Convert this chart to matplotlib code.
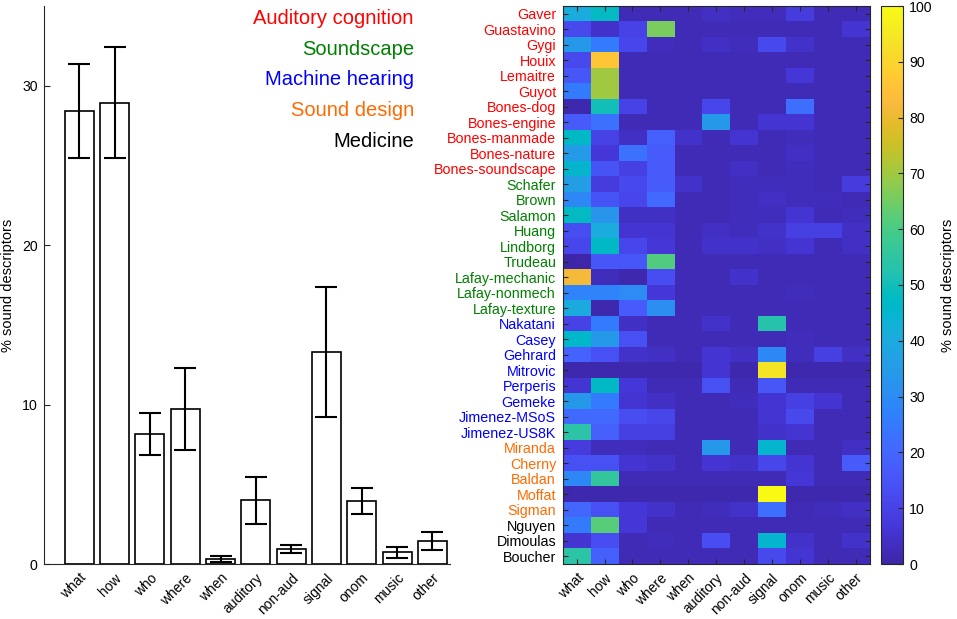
import numpy as np
import matplotlib
matplotlib.use('Agg')
import matplotlib.pyplot as plt
from matplotlib.colors import LinearSegmentedColormap

plt.rcParams['font.family'] = ['Liberation Sans', 'DejaVu Sans']

# ---------------- data ----------------
categories = ['what', 'how', 'who', 'where', 'when', 'auditory', 'non-aud',
              'signal', 'onom', 'music', 'other']
bar_means = [28.42, 28.94, 8.16, 9.72, 0.32, 3.99, 0.97, 13.32, 3.96, 0.74, 1.44]
bar_errors = [2.97, 3.50, 1.33, 2.58, 0.21, 1.47, 0.25, 4.08, 0.82, 0.35, 0.56]

group_names = ['Auditory cognition', 'Soundscape', 'Machine hearing',
               'Sound design', 'Medicine']
group_colors = ['#ff0000', '#008000', '#0000ff', '#ff6a00', '#000000']
group_sizes = [11, 9, 8, 5, 3]

authors = ['Gaver', 'Guastavino', 'Gygi', 'Houix', 'Lemaitre', 'Guyot',
           'Bones-dog', 'Bones-engine', 'Bones-manmade', 'Bones-nature',
           'Bones-soundscape', 'Schafer', 'Brown', 'Salamon', 'Huang',
           'Lindborg', 'Trudeau', 'Lafay-mechanic', 'Lafay-nonmech',
           'Lafay-texture', 'Nakatani', 'Casey', 'Gehrard', 'Mitrovic',
           'Perperis', 'Gemeke', 'Jimenez-MSoS', 'Jimenez-US8K', 'Miranda',
           'Cherny', 'Baldan', 'Moffat', 'Sigman', 'Nguyen', 'Dimoulas',
           'Boucher']

# rows: authors, columns: categories (% sound descriptors)
heat_values = [
    [41, 48, 2, 2, 2, 4, 3, 3, 8, 2, 2],      # Gaver
    [12, 5, 10, 66, 2, 2, 2, 2, 2, 2, 6],     # Guastavino
    [34, 25, 11, 3, 2, 4, 3, 12, 5, 2, 2],    # Gygi
    [12, 86, 2, 2, 2, 2, 2, 2, 2, 2, 2],      # Houix
    [16, 70, 2, 2, 2, 2, 2, 2, 7, 2, 2],      # Lemaitre
    [25, 70, 2, 2, 2, 2, 2, 2, 2, 2, 2],      # Guyot
    [1, 50, 10, 2, 2, 11, 2, 2, 22, 2, 2],    # Bones-dog
    [17, 23, 2, 2, 2, 34, 2, 6, 6, 2, 2],     # Bones-engine
    [47, 10, 4, 18, 5, 2, 6, 2, 3, 2, 2],     # Bones-manmade
    [35, 7, 23, 17, 2, 2, 2, 2, 4, 2, 2],     # Bones-nature
    [45, 15, 9, 17, 2, 2, 4, 2, 3, 2, 2],     # Bones-soundscape
    [36, 8, 12, 17, 5, 2, 3, 3, 3, 2, 8],     # Schafer
    [29, 15, 11, 21, 2, 2, 3, 4, 3, 3, 2],    # Brown
    [48, 33, 4, 4, 2, 2, 3, 3, 6, 2, 3],      # Salamon
    [13, 41, 6, 6, 2, 4, 3, 5, 9, 9, 4],      # Huang
    [11, 47, 11, 7, 2, 5, 5, 4, 6, 2, 4],     # Lindborg
    [0, 16, 16, 61, 2, 2, 2, 2, 2, 2, 2],     # Trudeau
    [82, 3, 1, 13, 2, 2, 5, 2, 2, 2, 2],      # Lafay-mechanic
    [28, 28, 30, 7, 2, 2, 2, 2, 3, 2, 2],     # Lafay-nonmech
    [40, 1, 17, 31, 2, 2, 2, 2, 2, 2, 2],     # Lafay-texture
    [10, 25, 4, 2, 2, 5, 2, 53, 2, 2, 2],     # Nakatani
    [46, 34, 14, 2, 2, 2, 2, 2, 3, 2, 2],     # Casey
    [19, 14, 5, 4, 2, 6, 4, 29, 3, 9, 4],     # Gehrard
    [1, 1, 1, 1, 1, 6, 1, 94, 1, 1, 1],       # Mitrovic
    [6, 47, 7, 2, 2, 14, 2, 16, 2, 2, 2],     # Perperis
    [34, 25, 6, 4, 2, 2, 3, 6, 9, 6, 2],      # Gemeke
    [21, 21, 13, 11, 2, 2, 2, 6, 12, 2, 2],   # Jimenez-MSoS
    [54, 18, 9, 9, 2, 2, 2, 5, 6, 2, 2],      # Jimenez-US8K
    [8, 3, 3, 2, 2, 34, 2, 45, 2, 2, 4],      # Miranda
    [14, 14, 6, 5, 2, 6, 5, 11, 6, 2, 17],    # Cherny
    [29, 56, 2, 2, 2, 2, 2, 2, 7, 2, 2],      # Baldan
    [1, 1, 1, 1, 1, 1, 1, 100, 1, 1, 1],      # Moffat
    [20, 14, 7, 5, 2, 3, 5, 22, 2, 3, 4],     # Sigman
    [25, 62, 7, 2, 2, 2, 2, 2, 2, 2, 2],      # Nguyen
    [6, 13, 2, 3, 2, 13, 2, 45, 5, 2, 5],     # Dimoulas
    [54, 18, 2, 2, 2, 2, 2, 12, 6, 2, 2],     # Boucher
]

# ---------------- colormap (parula-like) ----------------
_parula = [
    [0.2422, 0.1504, 0.6603], [0.2504, 0.1650, 0.7076], [0.2578, 0.1818, 0.7511],
    [0.2647, 0.1978, 0.7952], [0.2706, 0.2147, 0.8364], [0.2751, 0.2342, 0.8710],
    [0.2783, 0.2559, 0.8991], [0.2803, 0.2782, 0.9221], [0.2813, 0.3006, 0.9414],
    [0.2810, 0.3228, 0.9579], [0.2795, 0.3447, 0.9717], [0.2760, 0.3667, 0.9829],
    [0.2699, 0.3892, 0.9906], [0.2602, 0.4123, 0.9952], [0.2440, 0.4358, 0.9988],
    [0.2206, 0.4603, 0.9973], [0.1963, 0.4847, 0.9892], [0.1834, 0.5074, 0.9798],
    [0.1786, 0.5289, 0.9682], [0.1764, 0.5499, 0.9520], [0.1687, 0.5703, 0.9359],
    [0.1540, 0.5902, 0.9218], [0.1460, 0.6091, 0.9079], [0.1380, 0.6276, 0.8973],
    [0.1248, 0.6459, 0.8883], [0.1113, 0.6635, 0.8763], [0.0952, 0.6798, 0.8598],
    [0.0689, 0.6948, 0.8394], [0.0297, 0.7082, 0.8163], [0.0036, 0.7203, 0.7917],
    [0.0067, 0.7312, 0.7660], [0.0433, 0.7411, 0.7394], [0.0964, 0.7500, 0.7120],
    [0.1408, 0.7584, 0.6842], [0.1717, 0.7670, 0.6554], [0.1938, 0.7758, 0.6251],
    [0.2161, 0.7843, 0.5923], [0.2470, 0.7918, 0.5567], [0.2906, 0.7973, 0.5188],
    [0.3406, 0.8008, 0.4789], [0.3909, 0.8029, 0.4354], [0.4456, 0.8024, 0.3909],
    [0.5044, 0.7993, 0.3480], [0.5616, 0.7942, 0.3045], [0.6174, 0.7876, 0.2612],
    [0.6720, 0.7793, 0.2227], [0.7242, 0.7698, 0.1910], [0.7738, 0.7598, 0.1646],
    [0.8203, 0.7498, 0.1535], [0.8634, 0.7406, 0.1596], [0.9035, 0.7330, 0.1774],
    [0.9393, 0.7288, 0.2100], [0.9728, 0.7298, 0.2394], [0.9956, 0.7434, 0.2371],
    [0.9970, 0.7659, 0.2199], [0.9952, 0.7893, 0.2028], [0.9892, 0.8136, 0.1885],
    [0.9794, 0.8386, 0.1766], [0.9681, 0.8639, 0.1656], [0.9590, 0.8890, 0.1535],
    [0.9597, 0.9135, 0.1423], [0.9628, 0.9373, 0.1265], [0.9691, 0.9606, 0.1064],
    [0.9769, 0.9839, 0.0805]]
parula = LinearSegmentedColormap.from_list('parula', _parula, N=256)

W, H = 957, 619
fig = plt.figure(figsize=(W / 100, H / 100), dpi=100)

def fx(px):
    return px / W

def fy(px):
    return (H - px) / H

axis_col = '#262626'

# ---------------- bar chart ----------------
ax = fig.add_axes([fx(44), fy(564), fx(450) - fx(44), fy(6) - fy(564)])
xpos = np.arange(1, len(categories) + 1)
ax.bar(xpos, bar_means, width=0.82, facecolor='white', edgecolor='black',
       linewidth=1.2, zorder=2)
ax.errorbar(xpos, bar_means, yerr=bar_errors, fmt='none', ecolor='black',
            elinewidth=1.5, capsize=7.8, capthick=1.5, zorder=3)
ax.set_xlim(0, 11.5)
ax.set_ylim(0, 35)
ax.set_yticks([0, 10, 20, 30])
ax.set_xticks(xpos)
ax.set_xticklabels(categories, rotation=45, ha='right', va='top',
                   rotation_mode='anchor', fontsize=10)
ax.tick_params(axis='x', length=0, pad=5)
ax.tick_params(axis='y', direction='in', length=4.3, width=0.8, color=axis_col,
               labelsize=10.2, pad=4.5)
for s in ['top', 'right']:
    ax.spines[s].set_visible(False)
for s in ['left', 'bottom']:
    ax.spines[s].set_color(axis_col)
    ax.spines[s].set_linewidth(0.8)
ax.set_ylabel('% sound descriptors', fontsize=10.5, labelpad=5)

for i, (name, col) in enumerate(zip(group_names, group_colors)):
    ax.text(0.911, 0.978 - i * 0.0552, name, color=col, fontsize=14.5,
            ha='right', va='center', transform=ax.transAxes)

# ---------------- heatmap ----------------
hx = fig.add_axes([fx(562.7), fy(564), fx(869.5) - fx(562.7), fy(6) - fy(564)])
data = np.array(heat_values, dtype=float)
im = hx.imshow(data, cmap=parula, vmin=0, vmax=100, aspect='auto',
               interpolation='nearest')
hx.set_xticks(np.arange(len(categories)))
hx.set_xticklabels(categories, rotation=45, ha='right', va='top',
                   rotation_mode='anchor', fontsize=10)
hx.set_yticks(np.arange(len(authors)))
hx.set_yticklabels(authors, fontsize=10.3)
row_colors = []
for col, n in zip(group_colors, group_sizes):
    row_colors += [col] * n
for lab, col in zip(hx.get_yticklabels(), row_colors):
    lab.set_color(col)
hx.tick_params(axis='both', direction='in', length=3.5, width=0.8,
               color=axis_col, top=True, right=True)
hx.tick_params(axis='x', pad=5)
hx.tick_params(axis='y', pad=4.8)
for s in hx.spines.values():
    s.set_color(axis_col)
    s.set_linewidth(0.8)

# ---------------- colorbar ----------------
cax = fig.add_axes([fx(880.7), fy(564), fx(902.7) - fx(880.7), fy(6) - fy(564)])
cb = fig.colorbar(im, cax=cax, ticks=np.arange(0, 101, 10))
cb.outline.set_edgecolor(axis_col)
cb.outline.set_linewidth(0.8)
cax.tick_params(direction='in', length=3.5, width=0.8, color=axis_col,
                labelsize=10.2, pad=4.8)
cb.set_label('% sound descriptors', fontsize=10.5, labelpad=6)

fig.savefig('out.png', dpi=100)
